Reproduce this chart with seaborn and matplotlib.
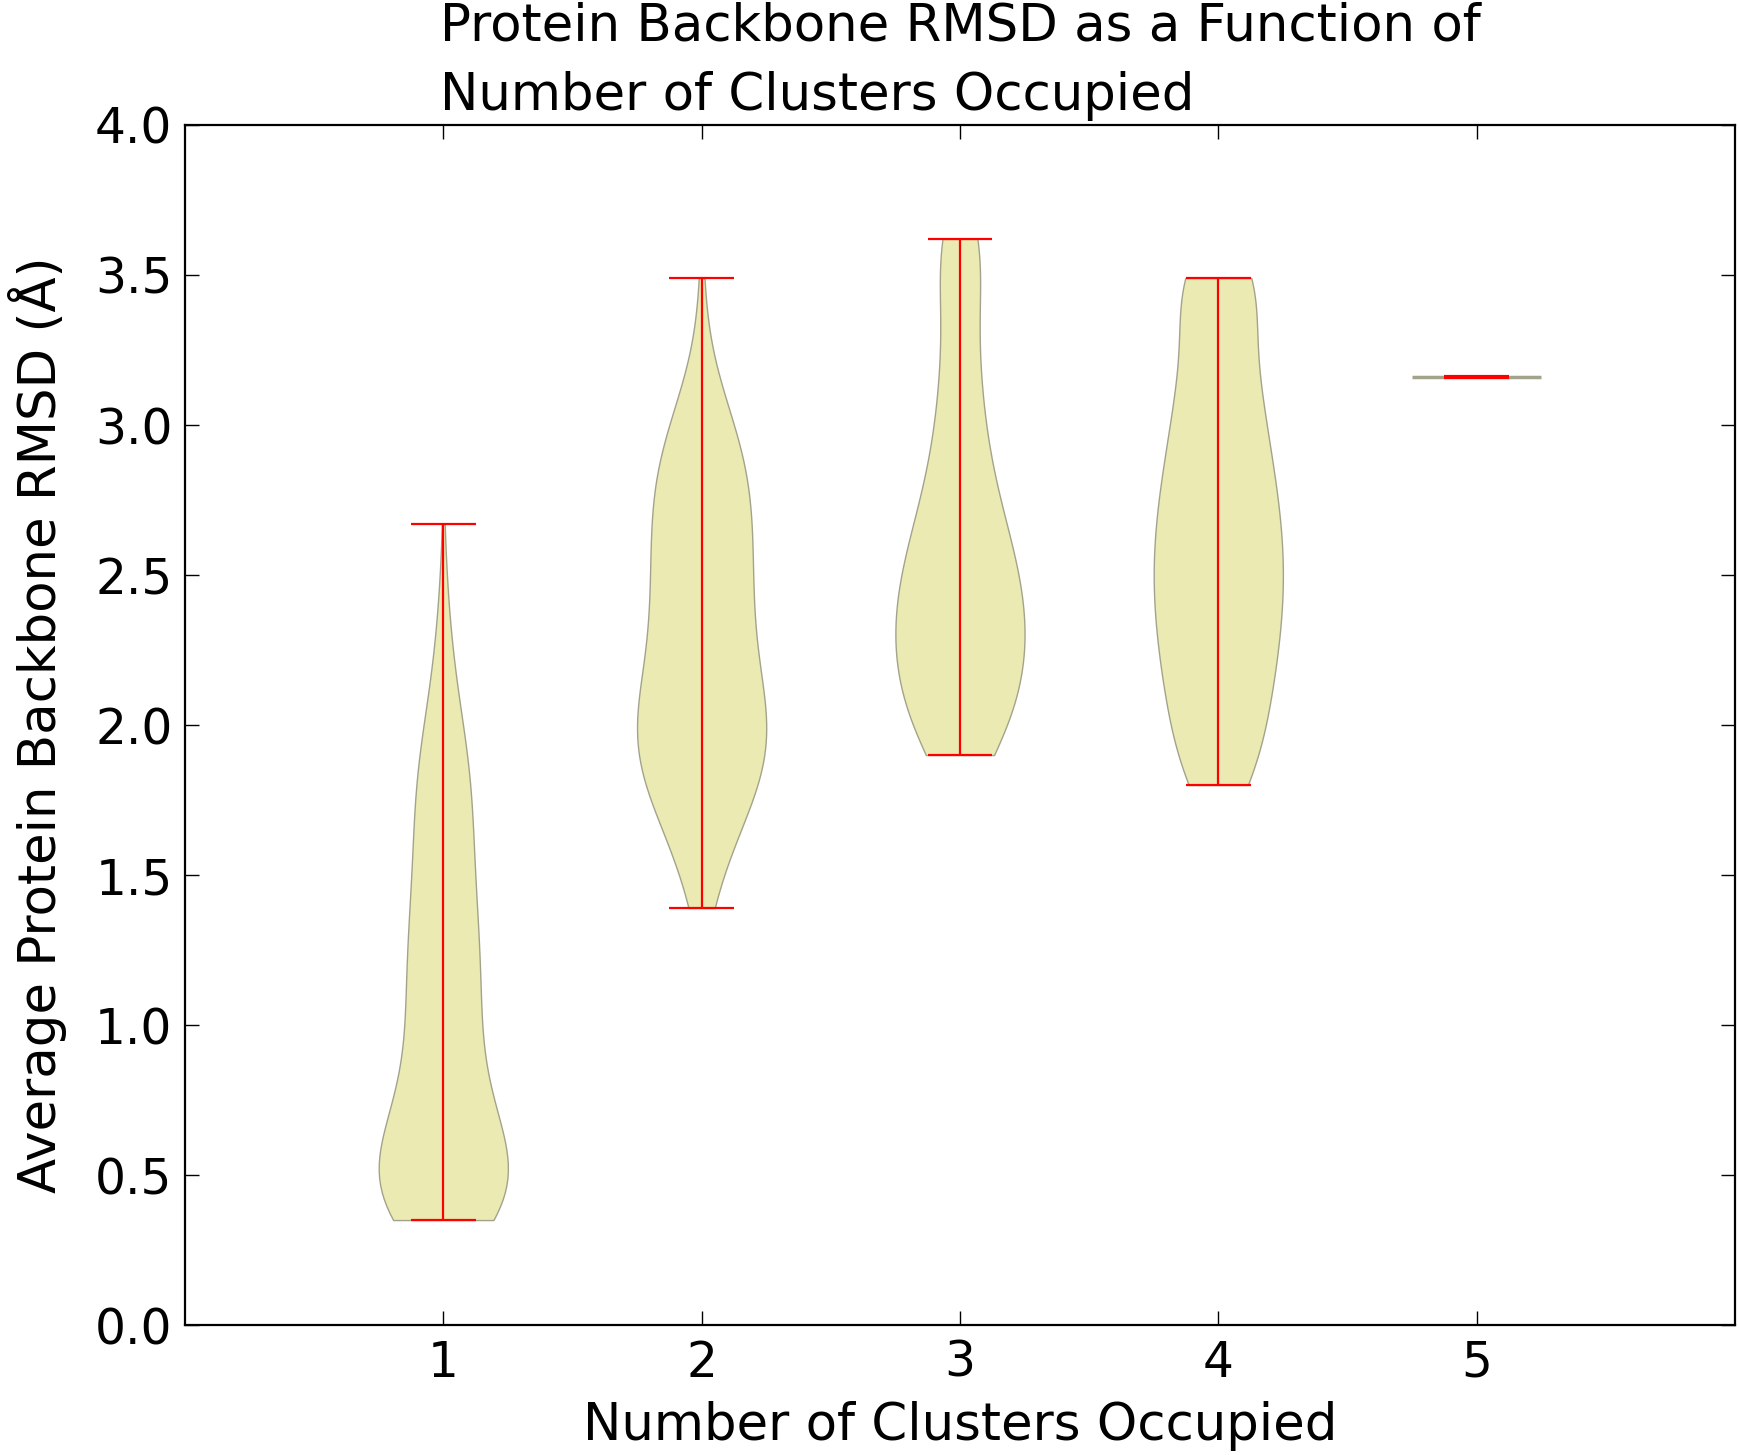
import numpy as np
import pandas as pd
import matplotlib
matplotlib.use("Agg")
import matplotlib.pyplot as plt
import seaborn as sns

# binned RMSD values (A) and how many frames fall on each, per cluster count
clusters = [1, 2, 3, 4, 5]

rmsd_1 = [0.35, 0.45, 0.55, 0.65, 0.75, 0.85, 0.95, 1.05, 1.15, 1.25, 1.35, 1.45,
          1.55, 1.65, 1.75, 1.85, 1.95, 2.05, 2.15, 2.25, 2.35, 2.45, 2.55, 2.67]
count_1 = [75, 70, 62, 50, 38, 32, 30, 32, 32, 31, 29, 27,
           25, 25, 25, 24, 19, 14, 10, 7, 5, 3, 2, 1]

rmsd_2 = [1.39, 1.49, 1.59, 1.69, 1.79, 1.89, 1.99, 2.09, 2.19, 2.29, 2.39,
          2.49, 2.59, 2.69, 2.79, 2.89, 2.99, 3.09, 3.19, 3.29, 3.39, 3.49]
count_2 = [4, 5, 8, 13, 18, 21, 22, 19, 16, 15, 15,
           15, 15, 15, 15, 14, 10, 7, 3, 1, 1, 1]

rmsd_3 = [1.90, 2.00, 2.10, 2.20, 2.30, 2.40, 2.50, 2.60, 2.70, 2.80, 2.90,
          3.00, 3.10, 3.20, 3.30, 3.40, 3.50, 3.62]
count_3 = [23, 18, 27, 29, 28, 28, 26, 22, 18, 14, 12,
           10, 9, 8, 7, 7, 8, 20]

rmsd_4 = [1.80, 1.90, 2.00, 2.10, 2.20, 2.30, 2.40, 2.50, 2.60, 2.70, 2.80,
          2.90, 3.00, 3.10, 3.20, 3.30, 3.40, 3.49]
count_4 = [22, 17, 21, 23, 25, 27, 28, 29, 28, 27, 25,
           23, 20, 19, 17, 14, 7, 40]

rmsd_5 = [3.16]
count_5 = [1]

groups = [(rmsd_1, count_1), (rmsd_2, count_2), (rmsd_3, count_3),
          (rmsd_4, count_4), (rmsd_5, count_5)]

rows = []
for k, (vals, cnts) in zip(clusters, groups):
    for v in np.repeat(vals, cnts):
        rows.append({"clusters": k, "rmsd": v})
df = pd.DataFrame(rows)

sns.set_theme(style="ticks", rc={
    "xtick.direction": "in", "ytick.direction": "in",
    "xtick.top": True, "ytick.right": True,
    "xtick.major.size": 10, "ytick.major.size": 10,
    "xtick.major.width": 1, "ytick.major.width": 1,
    "axes.linewidth": 1.6, "axes.edgecolor": "black",
    "xtick.color": "black", "ytick.color": "black",
    "text.color": "black", "axes.labelcolor": "black",
})
plt.rcParams["font.family"] = ["DejaVu Sans"]

fill = "#eaeab2"
edge = "#a3a38c"

fig = plt.figure(figsize=(17.4, 14.55), dpi=100)
ax = fig.add_axes([0.1063, 0.0893, 0.8908, 0.8248])

# single-observation groups can't get a KDE, draw those by hand below
multi = df.groupby("clusters")["rmsd"].transform("size") > 1
sns.violinplot(data=df[multi], x="clusters", y="rmsd", native_scale=True,
               cut=0, inner=None, density_norm="width", width=0.5,
               bw_adjust=1.1, color=fill, saturation=1,
               linecolor=edge, linewidth=1, ax=ax)

for k, (vals, cnts) in zip(clusters, groups):
    lo, hi = min(vals), max(vals)
    if lo == hi:
        ax.hlines(lo, k - 0.25, k + 0.25, color=edge, lw=2.5, zorder=3)
        ax.hlines(lo, k - 0.125, k + 0.125, color="red", lw=3, zorder=4)
        continue
    ax.vlines(k, lo, hi, color="red", lw=1.6, zorder=4)
    ax.hlines([lo, hi], k - 0.125, k + 0.125, color="red", lw=1.6, zorder=4)

ax.set_xlim(0, 6)
ax.set_ylim(0, 4)
ax.set_xticks(clusters)
ax.set_yticks(np.arange(0, 4.01, 0.5))
ax.tick_params(axis="both", labelsize=35)
ax.tick_params(axis="x", pad=10)
ax.tick_params(axis="y", pad=9)
ax.set_xlabel("Number of Clusters Occupied", fontsize=37, labelpad=10)
ax.set_ylabel("Average Protein Backbone RMSD (Å)", fontsize=37, labelpad=20)
ax.set_title("Protein Backbone RMSD as a Function of\nNumber of Clusters Occupied",
             fontsize=37, multialignment="left", linespacing=1.5, pad=11)

fig.savefig("out.png", dpi=100)
